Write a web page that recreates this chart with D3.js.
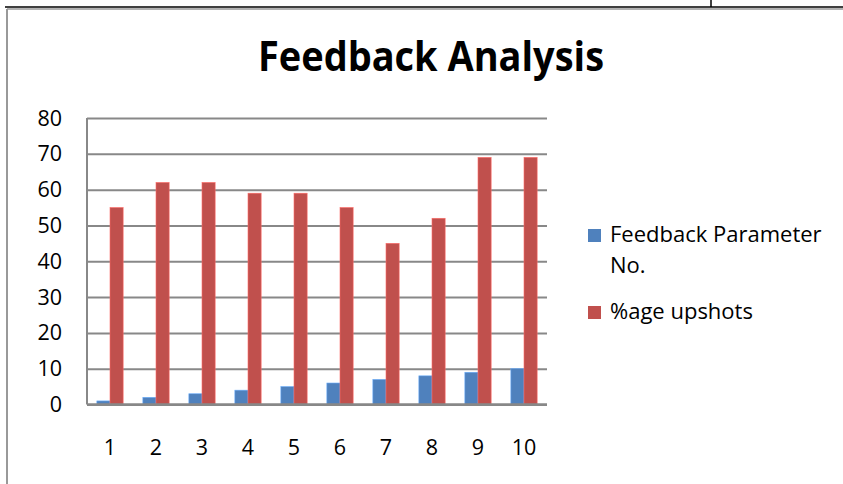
<!DOCTYPE html>
<html>
  <head>
    <meta charset="utf-8">
    <title>Feedback Analysis</title>
    <script src="https://d3js.org/d3.v7.min.js"></script>
    <style>
      body { margin: 0; background: #fff; overflow: hidden; }
      svg { display: block; font-family: "Open Sans", "Noto Sans", sans-serif; }
    </style>
  </head>
  <body>
    <div id="chart"></div>
    <script>
      // data
      const categories = ['1', '2', '3', '4', '5', '6', '7', '8', '9', '10'];
      const paramNo = [1, 2, 3, 4, 5, 6, 7, 8, 9, 10];
      const upshots = [55, 62, 62, 59, 59, 55, 45, 52, 69, 69];
      const seriesNames = ['Feedback Parameter No.', '%age upshots'];
      const seriesColors = ['#4F81BD', '#C0504D'];
      const yTicks = [0, 10, 20, 30, 40, 50, 60, 70, 80];

      const width = 843, height = 484;
      const margin = { left: 87, right: 296, top: 118, bottom: 79.5 };
      const innerWidth = width - margin.left - margin.right;
      const innerHeight = height - margin.top - margin.bottom;
      const labelSize = 21.5;

      const svg = d3.select('#chart').append('svg')
        .attr('width', width)
        .attr('height', height);

      // page borders around the chart
      svg.append('line')
        .attr('x1', 5).attr('x2', width).attr('y1', 7).attr('y2', 7)
        .attr('stroke', '#000').attr('stroke-width', 1.5);
      svg.append('line')
        .attr('x1', 711).attr('x2', 711).attr('y1', 0).attr('y2', 7)
        .attr('stroke', '#000').attr('stroke-width', 1.5);
      svg.append('line')
        .attr('x1', 7).attr('x2', width).attr('y1', 9).attr('y2', 9)
        .attr('stroke', '#999').attr('stroke-width', 1.5);
      svg.append('line')
        .attr('x1', 7).attr('x2', 7).attr('y1', 9).attr('y2', height)
        .attr('stroke', '#999').attr('stroke-width', 2);

      svg.append('text')
        .attr('x', 431)
        .attr('y', 71)
        .attr('text-anchor', 'middle')
        .attr('font-size', 41)
        .attr('font-weight', 'bold')
        .attr('textLength', 346)
        .attr('lengthAdjust', 'spacingAndGlyphs')
        .text('Feedback Analysis');

      const g = svg.append('g')
        .attr('transform', `translate(${margin.left},${margin.top})`);

      const xScale = d3.scaleBand()
        .domain(categories)
        .range([0, innerWidth]);

      const xInner = d3.scaleBand()
        .domain(seriesNames)
        .range([0, xScale.bandwidth()])
        .paddingInner(0)
        .paddingOuter(0.75);

      const yScale = d3.scaleLinear()
        .domain([0, 80])
        .range([innerHeight, 0]);

      // gridlines from the axis, labels drawn as plain text
      const yAxis = d3.axisLeft(yScale)
        .tickValues(yTicks)
        .tickSize(-innerWidth)
        .tickFormat('');

      const yAxisG = g.append('g').call(yAxis);
      yAxisG.select('.domain').remove();
      yAxisG.selectAll('.tick line')
        .attr('stroke', '#888')
        .attr('stroke-width', 2);
      yAxisG.selectAll('.tick text').remove();

      g.selectAll('.ylabel').data(yTicks)
        .enter().append('text')
        .attr('class', 'ylabel')
        .attr('x', -25)
        .attr('y', d => yScale(d) + 7.5)
        .attr('text-anchor', 'end')
        .attr('font-size', labelSize)
        .text(d => d);

      g.append('line')
        .attr('x1', 0).attr('x2', 0)
        .attr('y1', 0).attr('y2', innerHeight)
        .attr('stroke', '#888').attr('stroke-width', 2);

      const rows = categories.map((c, i) => ({ cat: c, values: [paramNo[i], upshots[i]] }));

      const groups = g.selectAll('.group').data(rows)
        .enter().append('g')
        .attr('class', 'group')
        .attr('transform', d => `translate(${xScale(d.cat)},0)`);

      groups.selectAll('rect')
        .data(d => d.values.map((v, j) => ({ name: seriesNames[j], value: v, color: seriesColors[j] })))
        .enter().append('rect')
        .attr('x', d => xInner(d.name))
        .attr('width', xInner.bandwidth())
        .attr('y', d => yScale(d.value))
        .attr('height', d => innerHeight - yScale(d.value))
        .attr('fill', d => d.color)
        .attr('stroke', d => d3.color(d.color).brighter(0.8))
        .attr('stroke-width', 0.6);

      g.append('line')
        .attr('x1', 0).attr('x2', innerWidth)
        .attr('y1', innerHeight).attr('y2', innerHeight)
        .attr('stroke', '#888').attr('stroke-width', 2.5);

      g.selectAll('.xlabel').data(categories)
        .enter().append('text')
        .attr('class', 'xlabel')
        .attr('x', d => xScale(d) + xScale.bandwidth() / 2)
        .attr('y', innerHeight + 50)
        .attr('text-anchor', 'middle')
        .attr('font-size', labelSize)
        .text(d => d);

      // legend
      const legend = svg.append('g')
        .attr('transform', 'translate(588,0)');

      const legendItems = [
        { lines: ['Feedback Parameter', 'No.'], color: seriesColors[0], y: 229 },
        { lines: ['%age upshots'], color: seriesColors[1], y: 306 }
      ];

      legendItems.forEach(item => {
        legend.append('rect')
          .attr('x', 0).attr('y', item.y)
          .attr('width', 13).attr('height', 13)
          .attr('fill', item.color);
        item.lines.forEach((t, k) => {
          legend.append('text')
            .attr('x', 22)
            .attr('y', item.y + 13 + k * 31)
            .attr('font-size', 22)
            .text(t);
        });
      });
    </script>
  </body>
</html>
